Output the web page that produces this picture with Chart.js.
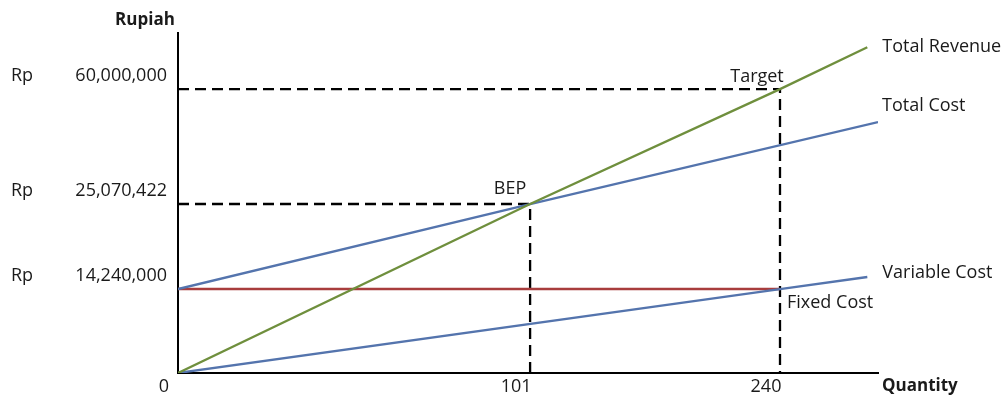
<!DOCTYPE html>
<html>
<head>
<meta charset="utf-8">
<script src="https://cdn.jsdelivr.net/npm/chart.js@4.4.1/dist/chart.umd.min.js"></script>
<style>
  html, body { margin: 0; padding: 0; background: #fff; }
  #wrap { width: 1005px; height: 399px; }
</style>
</head>
<body>
<div id="wrap"><canvas id="bepChart" width="1005" height="399"></canvas></div>
<script>
// values (quantity, rupiah)
const qtyTicks = [0, 101, 240]
const rpTicks = [0, 14240000, 25070422, 60000000]

const revenueQty = [0, 101, 240, 289]
const revenueRp = [0, 25070422, 60000000, 72700000]
const totalCostQty = [0, 101, 295]
const totalCostRp = [14240000, 25070422, 49970000]
const variableQty = [0, 240, 289]
const variableRp = [0, 14240000, 15770000]
const fixedQty = [0, 240]
const fixedRp = [14240000, 14240000]
const targetQty = [0, 240, 240]
const targetRp = [60000000, 60000000, 0]
const bepQty = [0, 101, 101]
const bepRp = [25070422, 25070422, 0]

// the picture is a sketch, not to scale: each axis maps value -> position piecewise
const qtyBreaks = [0, 101, 240, 295]
const qtyStops = [0, 0.503, 0.86, 1]
const rpBreaks = [0, 14240000, 25070422, 60000000, 77000000]
const rpStops = [0, 0.247, 0.497, 0.835, 1]

function toPoints(xs, ys) {
  return xs.map((x, i) => ({ x: x, y: ys[i] }))
}

function lerp(v, from, to) {
  for (let i = 1; i < from.length; i++) {
    if (v <= from[i] || i === from.length - 1) {
      const t = (v - from[i - 1]) / (from[i] - from[i - 1])
      return to[i - 1] + t * (to[i] - to[i - 1])
    }
  }
  return to[0]
}

class PiecewiseScale extends Chart.LinearScale {
  getPixelForValue(value) {
    if (value === null || value === undefined) return NaN
    const b = this.axis === 'x' ? qtyBreaks : rpBreaks
    const s = this.axis === 'x' ? qtyStops : rpStops
    return this.getPixelForDecimal(lerp(value, b, s))
  }
  getValueForPixel(pixel) {
    const b = this.axis === 'x' ? qtyBreaks : rpBreaks
    const s = this.axis === 'x' ? qtyStops : rpStops
    return lerp(this.getDecimalForPixel(pixel), s, b)
  }
}
PiecewiseScale.id = 'piecewise'
PiecewiseScale.defaults = Chart.LinearScale.defaults
Chart.register(PiecewiseScale)

const FONT = '"Open Sans", sans-serif'
const green = '#6f8f3d'
const blue = '#5474ad'
const red = '#a83d3d'

function line(label, pts, color, width, dash) {
  return {
    label: label,
    data: pts,
    borderColor: color,
    borderWidth: width,
    borderDash: dash || [],
    pointRadius: 0,
    fill: false,
    tension: 0
  }
}

const textPlugin = {
  id: 'textPlugin',
  afterDraw(chart) {
    const ctx = chart.ctx
    const xs = chart.scales.x
    const ys = chart.scales.y
    const at = (q, r) => [xs.getPixelForValue(q), ys.getPixelForValue(r)]
    ctx.save()
    ctx.fillStyle = '#1a1a1a'
    ctx.textBaseline = 'middle'

    ctx.font = '18px ' + FONT
    ctx.textAlign = 'left'
    rpTicks.forEach(v => {
      if (v === 0) return
      ctx.fillText('Rp', 11, ys.getPixelForValue(v) - 13)
    })

    let p = at(revenueQty[3], revenueRp[3])
    ctx.fillText('Total Revenue', p[0] + 15, p[1])
    p = at(totalCostQty[2], totalCostRp[2])
    ctx.fillText('Total Cost', p[0] + 4, p[1] - 16)
    p = at(variableQty[2], variableRp[2])
    ctx.fillText('Variable Cost', p[0] + 15, p[1] - 4)
    p = at(fixedQty[1], fixedRp[1])
    ctx.fillText('Fixed Cost', p[0] + 7, p[1] + 14)

    ctx.textAlign = 'center'
    p = at(targetQty[1], targetRp[1])
    ctx.fillText('Target', p[0] - 23, p[1] - 12)
    p = at(bepQty[1], bepRp[1])
    ctx.fillText('BEP', p[0] - 20, p[1] - 15)

    ctx.font = 'bold 17px ' + FONT
    ctx.fillText('Rupiah', 145, 20)
    ctx.textAlign = 'left'
    ctx.fillText('Quantity', chart.chartArea.right + 4, 386)
    ctx.restore()
  }
}

new Chart(document.getElementById('bepChart'), {
  type: 'line',
  data: {
    datasets: [
      line('Total Revenue', toPoints(revenueQty, revenueRp), green, 2.3),
      line('Total Cost', toPoints(totalCostQty, totalCostRp), blue, 2.3),
      line('Variable Cost', toPoints(variableQty, variableRp), blue, 2.3),
      line('Fixed Cost', toPoints(fixedQty, fixedRp), red, 2.6),
      line('Target', toPoints(targetQty, targetRp), '#000', 2.3, [11, 6]),
      line('BEP', toPoints(bepQty, bepRp), '#000', 2.3, [11, 6])
    ]
  },
  options: {
    responsive: false,
    animation: false,
    layout: { padding: { top: 33, right: 127, left: 0, bottom: 0 } },
    plugins: {
      legend: { display: false },
      tooltip: { enabled: false }
    },
    scales: {
      x: {
        type: 'piecewise',
        min: 0,
        max: 295,
        afterBuildTicks: s => { s.ticks = qtyTicks.map(v => ({ value: v })) },
        afterFit: s => { s.height = 26 },
        grid: { display: true, color: 'rgba(0,0,0,0)', drawTicks: false },
        border: { display: true, color: '#000', width: 2 },
        ticks: {
          color: '#1a1a1a',
          font: { family: FONT, size: 18 },
          padding: 3,
          labelOffset: -14,
          maxRotation: 0,
          autoSkip: false,
          callback: v => String(v)
        }
      },
      y: {
        type: 'piecewise',
        min: 0,
        max: 77000000,
        afterBuildTicks: s => { s.ticks = rpTicks.filter(v => v > 0).map(v => ({ value: v })) },
        afterFit: s => { s.width = 178 },
        grid: { display: true, color: 'rgba(0,0,0,0)', drawTicks: false },
        border: { display: true, color: '#000', width: 2 },
        ticks: {
          color: '#1a1a1a',
          font: { family: FONT, size: 18 },
          padding: 11,
          labelOffset: -13,
          autoSkip: false,
          callback: v => v.toLocaleString('en-US')
        }
      }
    }
  },
  plugins: [textPlugin]
})
</script>
</body>
</html>
